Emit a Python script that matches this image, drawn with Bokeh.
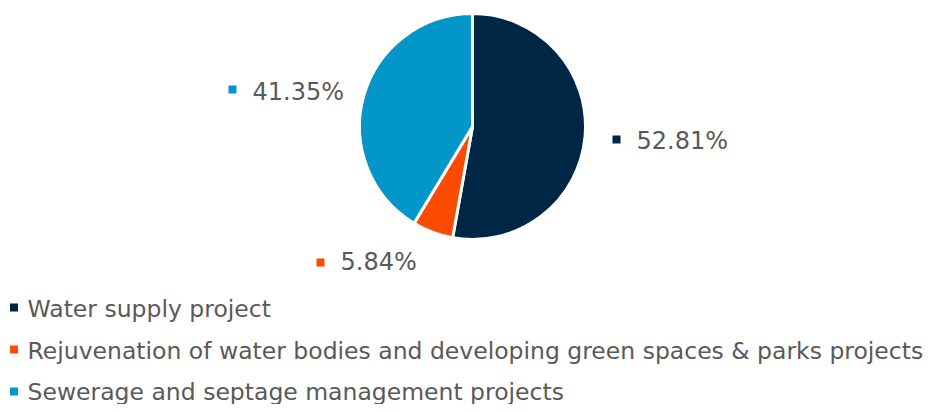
from bokeh.plotting import figure
from bokeh.models import Range1d, ColumnDataSource
from bokeh.core.properties import value
from bokeh.embed import file_html
from bokeh.resources import INLINE
import math

categories = ["Water supply project",
              "Rejuvenation of water bodies and developing green spaces & parks projects",
              "Sewerage and septage management projects"]
shares = [52.81, 5.84, 41.35]
colors = ["#002646", "#FA4B00", "#0396C8"]
label_texts = [f"{v:.2f}%" for v in shares]

W, H = 937, 404
# coordinates below are in reference-picture pixels (x right, y down), flipped via Y()
p = figure(width=W, height=H, output_backend="svg", toolbar_location=None,
           x_range=Range1d(0, W), y_range=Range1d(412 - H, 412),
           min_border=0)
p.axis.visible = False
p.grid.visible = False
p.outline_line_color = None
p.background_fill_color = "white"
p.border_fill_color = "white"

def Y(y):
    return 412 - y

# pie angles from data, starting at 12 o'clock, clockwise
total = sum(shares)
starts, ends = [], []
acc = 0.0
for v in shares:
    a0 = math.pi / 2 - 2 * math.pi * acc / total
    acc += v
    a1 = math.pi / 2 - 2 * math.pi * acc / total
    starts.append(a0)
    ends.append(a1)

src = ColumnDataSource(dict(start=starts, end=ends, color=colors))
p.wedge(x=472, y=Y(126), radius=113, start_angle="start", end_angle="end",
        direction="clock", fill_color="color", line_color="white", line_width=3,
        source=src)

# data labels
lab_marker_x = [616, 320, 232]
lab_marker_y = [Y(139), Y(262), Y(89)]
lab_text_x = [636, 340, 252]
lab_text_y = [Y(140), Y(261), Y(91)]
p.scatter(x=lab_marker_x, y=lab_marker_y, marker="square", size=8,
          fill_color=colors, line_color=None)
p.text(x=lab_text_x, y=lab_text_y, text=label_texts, text_font=value("DejaVu Sans"),
       text_font_size="24px", text_color="#595959", text_baseline="middle",
       text_align="left")

# legend
leg_y = [Y(308), Y(350), Y(391)]
p.scatter(x=[13.5] * 3, y=[Y(307), Y(349), Y(391)], marker="square", size=8,
          fill_color=colors, line_color=None)
p.text(x=[27] * 3, y=leg_y, text=categories, text_font=value("DejaVu Sans"),
       text_font_size="23.5px", text_color="#595959", text_baseline="middle",
       text_align="left")

open("out.html", "w").write(file_html(p, INLINE))
